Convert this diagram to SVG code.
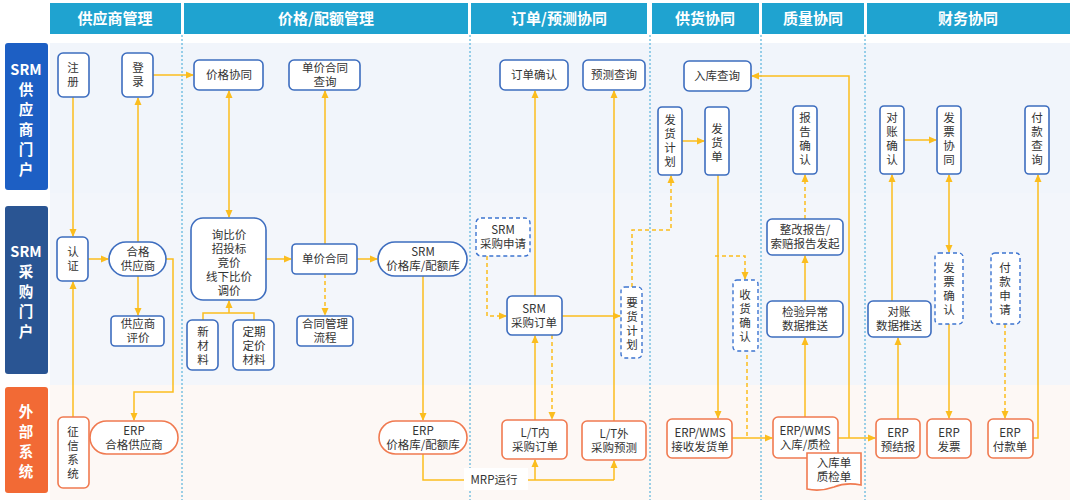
<svg xmlns="http://www.w3.org/2000/svg" width="1073" height="500" viewBox="0 0 1073 500">
<defs>
<marker id="a" markerWidth="8" markerHeight="8" refX="7" refY="4" orient="auto" markerUnits="userSpaceOnUse"><path d="M0,0.5 L8,4 L0,7.5 Z" fill="#fbbd1e"/></marker>
<marker id="s" markerWidth="8" markerHeight="8" refX="1" refY="4" orient="auto" markerUnits="userSpaceOnUse"><path d="M8,0.5 L0,4 L8,7.5 Z" fill="#fbbd1e"/></marker>
</defs>
<style>
.hd{fill:#1fa3d0}
.ht{font:bold 15px "Noto Sans CJK SC","Noto Sans",sans-serif;fill:#fff;text-anchor:middle}
.rt{font:bold 14.5px "Noto Sans CJK SC","Noto Sans",sans-serif;fill:#fff;text-anchor:middle}
.b{fill:#fff;stroke:#3d6dbf;stroke-width:1.6}
.o{fill:#fff;stroke:#f07a50;stroke-width:1.6}
.d{fill:#fff;stroke:#3d74d0;stroke-width:1.4;stroke-dasharray:4 3}
.t{font:11.5px "Noto Sans CJK SC","Noto Sans",sans-serif;fill:#333;text-anchor:middle}
.sep{stroke:#3aa6d6;stroke-width:1;stroke-dasharray:2 2}
.c{fill:none;stroke:#fbbd1e;stroke-width:1.5}
.cd{fill:none;stroke:#fbbd1e;stroke-width:1.5;stroke-dasharray:4 3}
</style>
<rect width="1073" height="500" fill="#fff"/>
<rect x="50" y="43" width="1020" height="150" fill="#f1f5fb"/>
<rect x="50" y="193" width="1020" height="192" fill="#f3f6fb"/>
<rect x="50" y="385" width="1020" height="115" fill="#fdf8f5"/>
<g id="headers">
<rect class="hd" x="50" y="3" width="131" height="31"/><text class="ht" x="115" y="24">供应商管理</text>
<rect class="hd" x="184" y="3" width="284" height="31"/><text class="ht" x="326" y="24">价格/配额管理</text>
<rect class="hd" x="471" y="3" width="176" height="31"/><text class="ht" x="559" y="24">订单/预测协同</text>
<rect class="hd" x="652" y="3" width="107" height="31"/><text class="ht" x="705" y="24">供货协同</text>
<rect class="hd" x="762" y="3" width="102" height="31"/><text class="ht" x="813" y="24">质量协同</text>
<rect class="hd" x="867" y="3" width="203" height="31"/><text class="ht" x="968" y="24">财务协同</text>
</g>
<g id="rows">
<rect x="5" y="43" width="43" height="147" rx="3" fill="#1d5fc4"/>
<text class="rt"><tspan x="26" y="75">SRM</tspan><tspan x="26" y="95">供</tspan><tspan x="26" y="115">应</tspan><tspan x="26" y="135">商</tspan><tspan x="26" y="155">门</tspan><tspan x="26" y="175">户</tspan></text>
<rect x="5" y="206" width="43" height="168" rx="3" fill="#2a5593"/>
<text class="rt"><tspan x="26" y="257">SRM</tspan><tspan x="26" y="277">采</tspan><tspan x="26" y="297">购</tspan><tspan x="26" y="317">门</tspan><tspan x="26" y="337">户</tspan></text>
<rect x="5" y="387" width="43" height="106" rx="3" fill="#f26a35"/>
<text class="rt"><tspan x="26" y="417">外</tspan><tspan x="26" y="437">部</tspan><tspan x="26" y="457">系</tspan><tspan x="26" y="477">统</tspan></text>
</g>
<g id="separators">
<line class="sep" x1="182" y1="35" x2="182" y2="500"/>
<line class="sep" x1="470" y1="35" x2="470" y2="500"/>
<line class="sep" x1="650" y1="35" x2="650" y2="500"/>
<line class="sep" x1="761" y1="35" x2="761" y2="500"/>
<line class="sep" x1="865" y1="35" x2="865" y2="500"/>
</g>
<g id="connectors">
<path class="c" d="M73,97 V236" marker-end="url(#a)"/>
<path class="c" d="M73,417 V282" marker-end="url(#a)"/>
<path class="c" d="M88,259 H108" marker-end="url(#a)"/>
<path class="c" d="M138,242 V98" marker-end="url(#a)"/>
<path class="c" d="M138,276 V315" marker-end="url(#a)"/>
<path class="c" d="M166,259 H173 V392 H134 V420" marker-end="url(#a)"/>
<path class="c" d="M153,75 H193" marker-end="url(#a)"/>
<path class="c" d="M229,91 V217" marker-start="url(#s)" marker-end="url(#a)"/>
<path class="c" d="M203,320 V313 H254 V320"/>
<path class="c" d="M229,313 V301" marker-end="url(#a)"/>
<path class="c" d="M266,259 H291" marker-end="url(#a)"/>
<path class="c" d="M325,244 V91" marker-end="url(#a)"/>
<path class="cd" d="M325,274 V315" marker-end="url(#a)"/>
<path class="c" d="M357,259 H377" marker-end="url(#a)"/>
<path class="c" d="M423,276 V420" marker-end="url(#a)"/>
<path class="c" d="M423,454 V480 H472"/>
<path class="c" d="M528,480 H614"/>
<path class="c" d="M535,480 V460" marker-end="url(#a)"/>
<path class="c" d="M614,480 V461" marker-end="url(#a)"/>
<path class="cd" d="M487,256 V316 H506" marker-end="url(#a)"/>
<path class="c" d="M535,296 V91" marker-end="url(#a)"/>
<path class="c" d="M562,316 H620" marker-end="url(#a)"/>
<path class="c" d="M535,420 V336" marker-end="url(#a)"/>
<path class="cd" d="M552,335 V419" marker-end="url(#a)"/>
<path class="c" d="M614,421 V91" marker-end="url(#a)"/>
<path class="cd" d="M632,287 V230 H671 V176" marker-end="url(#a)"/>
<path class="c" d="M682,141 H704" marker-end="url(#a)"/>
<path class="c" d="M718,175 V418" marker-end="url(#a)"/>
<path class="cd" d="M715,256 H745 V279" marker-end="url(#a)"/>
<path class="cd" d="M747,355 V438"/>
<path class="c" d="M732,438 H772" marker-end="url(#a)"/>
<path class="c" d="M805,417 V338" marker-end="url(#a)"/>
<path class="c" d="M805,301 V256" marker-end="url(#a)"/>
<path class="cd" d="M805,219 V175" marker-end="url(#a)"/>
<path class="c" d="M838,438 H875" marker-end="url(#a)"/>
<path class="c" d="M849,438 V76 H752" marker-end="url(#a)"/>
<path class="c" d="M898,419 V338" marker-end="url(#a)"/>
<path class="c" d="M892,301 V175" marker-end="url(#a)"/>
<path class="c" d="M904,140 H936" marker-end="url(#a)"/>
<path class="c" d="M949,175 V252" marker-start="url(#s)" marker-end="url(#a)"/>
<path class="c" d="M949,324 V418" marker-end="url(#a)"/>
<path class="cd" d="M1005,324 V418" marker-end="url(#a)"/>
<path class="c" d="M1033,438 H1038 V175" marker-end="url(#a)"/>
</g>
<g id="n-zhuce"><rect class="b" x="58" y="53" width="31" height="44" rx="5"/><text class="t"><tspan x="73" y="72">注</tspan><tspan x="73" y="86">册</tspan></text></g>
<g id="n-denglu"><rect class="b" x="122" y="53" width="31" height="44" rx="5"/><text class="t"><tspan x="138" y="72">登</tspan><tspan x="138" y="86">录</tspan></text></g>
<g id="n-renzheng"><rect class="b" x="57" y="237" width="31" height="44" rx="5"/><text class="t"><tspan x="73" y="256">认</tspan><tspan x="73" y="270">证</tspan></text></g>
<g id="n-hege"><rect class="b" x="109" y="242" width="57" height="34" rx="17"/><text class="t"><tspan x="138" y="256">合格</tspan><tspan x="138" y="270">供应商</tspan></text></g>
<g id="n-pingjia"><rect class="b" x="111" y="316" width="53" height="30" rx="4"/><text class="t"><tspan x="138" y="328">供应商</tspan><tspan x="138" y="342">评价</tspan></text></g>
<g id="n-zhengxin"><rect class="o" x="58" y="417" width="31" height="71" rx="5"/><text class="t"><tspan x="73" y="436">征</tspan><tspan x="73" y="450">信</tspan><tspan x="73" y="464">系</tspan><tspan x="73" y="478">统</tspan></text></g>
<g id="n-erp-hege"><rect class="o" x="90" y="421" width="88" height="33" rx="16.5"/><text class="t"><tspan x="134" y="435">ERP</tspan><tspan x="134" y="449">合格供应商</tspan></text></g>
<g id="n-jiage"><rect class="b" x="194" y="60" width="69" height="30" rx="5"/><text class="t" x="229" y="79">价格协同</text></g>
<g id="n-djcx"><rect class="b" x="289" y="60" width="71" height="30" rx="5"/><text class="t"><tspan x="325" y="72">单价合同</tspan><tspan x="325" y="86">查询</tspan></text></g>
<g id="n-xunbi"><rect class="b" x="191" y="218" width="75" height="82" rx="12"/><text class="t"><tspan x="229" y="239">询比价</tspan><tspan x="229" y="253">招投标</tspan><tspan x="229" y="267">竞价</tspan><tspan x="229" y="281">线下比价</tspan><tspan x="229" y="295">调价</tspan></text></g>
<g id="n-xincai"><rect class="b" x="187" y="320" width="31" height="50" rx="5"/><text class="t"><tspan x="203" y="336">新</tspan><tspan x="203" y="350">材</tspan><tspan x="203" y="364">料</tspan></text></g>
<g id="n-dingqi"><rect class="b" x="233" y="320" width="41" height="50" rx="5"/><text class="t"><tspan x="254" y="336">定期</tspan><tspan x="254" y="350">定价</tspan><tspan x="254" y="364">材料</tspan></text></g>
<g id="n-danjia"><rect class="b" x="292" y="244" width="65" height="30" rx="4"/><text class="t" x="325" y="263">单价合同</text></g>
<g id="n-hetong"><rect class="b" x="297" y="316" width="56" height="30" rx="4"/><text class="t"><tspan x="325" y="328">合同管理</tspan><tspan x="325" y="342">流程</tspan></text></g>
<g id="n-srm-jgk"><rect class="b" x="378" y="242" width="89" height="34" rx="17"/><text class="t"><tspan x="423" y="256">SRM</tspan><tspan x="423" y="270">价格库/配额库</tspan></text></g>
<g id="n-erp-jgk"><rect class="o" x="379" y="421" width="88" height="33" rx="16.5"/><text class="t"><tspan x="423" y="435">ERP</tspan><tspan x="423" y="449">价格库/配额库</tspan></text></g>
<g id="n-mrp"><rect x="464" y="468" width="64" height="22" fill="#fff"/><text class="t" x="494" y="484">MRP运行</text></g>
<g id="n-ddqr"><rect class="b" x="500" y="60" width="68" height="30" rx="5"/><text class="t" x="534" y="79">订单确认</text></g>
<g id="n-ycxc"><rect class="b" x="583" y="60" width="62" height="30" rx="5"/><text class="t" x="614" y="79">预测查询</text></g>
<g id="n-sqsq"><rect class="d" x="476" y="218" width="54" height="38" rx="5"/><text class="t"><tspan x="503" y="234">SRM</tspan><tspan x="503" y="248">采购申请</tspan></text></g>
<g id="n-srm-dd"><rect class="b" x="507" y="296" width="55" height="39" rx="5"/><text class="t"><tspan x="534" y="313">SRM</tspan><tspan x="534" y="327">采购订单</tspan></text></g>
<g id="n-yaohuo"><rect class="d" x="621" y="287" width="21" height="71" rx="4"/><text class="t"><tspan x="632" y="307">要</tspan><tspan x="632" y="321">货</tspan><tspan x="632" y="335">计</tspan><tspan x="632" y="349">划</tspan></text></g>
<g id="n-ltnei"><rect class="o" x="502" y="420" width="65" height="39" rx="5"/><text class="t"><tspan x="535" y="437">L/T内</tspan><tspan x="535" y="451">采购订单</tspan></text></g>
<g id="n-ltwai"><rect class="o" x="582" y="421" width="64" height="39" rx="5"/><text class="t"><tspan x="614" y="438">L/T外</tspan><tspan x="614" y="452">采购预测</tspan></text></g>
<g id="n-rkcx"><rect class="b" x="684" y="61" width="67" height="30" rx="5"/><text class="t" x="717" y="80">入库查询</text></g>
<g id="n-fhjh"><rect class="b" x="658" y="107" width="24" height="68" rx="4"/><text class="t"><tspan x="670" y="124">发</tspan><tspan x="670" y="138">货</tspan><tspan x="670" y="152">计</tspan><tspan x="670" y="166">划</tspan></text></g>
<g id="n-fhd"><rect class="b" x="705" y="107" width="24" height="68" rx="4"/><text class="t"><tspan x="717" y="133">发</tspan><tspan x="717" y="147">货</tspan><tspan x="717" y="161">单</tspan></text></g>
<g id="n-shqr"><rect class="d" x="733" y="280" width="25" height="71" rx="4"/><text class="t"><tspan x="745" y="299">收</tspan><tspan x="745" y="313">货</tspan><tspan x="745" y="327">确</tspan><tspan x="745" y="341">认</tspan></text></g>
<g id="n-wms1"><rect class="o" x="667" y="419" width="65" height="39" rx="5"/><text class="t"><tspan x="700" y="437">ERP/WMS</tspan><tspan x="700" y="451">接收发货单</tspan></text></g>
<g id="n-bgqr"><rect class="b" x="793" y="106" width="24" height="68" rx="4"/><text class="t"><tspan x="805" y="122">报</tspan><tspan x="805" y="136">告</tspan><tspan x="805" y="150">确</tspan><tspan x="805" y="164">认</tspan></text></g>
<g id="n-zhenggai"><rect class="b" x="767" y="219" width="76" height="36" rx="5"/><text class="t"><tspan x="805" y="234">整改报告/</tspan><tspan x="805" y="248">索赔报告发起</tspan></text></g>
<g id="n-jianyan"><rect class="b" x="767" y="301" width="76" height="36" rx="5"/><text class="t"><tspan x="805" y="316">检验异常</tspan><tspan x="805" y="330">数据推送</tspan></text></g>
<g id="n-wms2"><rect class="o" x="773" y="417" width="65" height="41" rx="5"/><text class="t"><tspan x="805" y="435">ERP/WMS</tspan><tspan x="805" y="449">入库/质检</tspan></text></g>
<g id="n-doc"><path class="o" d="M807,453 H861 V485 Q846,482 834,487 Q820,492 807,489 Z"/><text class="t"><tspan x="834" y="467">入库单</tspan><tspan x="834" y="481">质检单</tspan></text></g>
<g id="n-dzqr"><rect class="b" x="880" y="106" width="24" height="68" rx="4"/><text class="t"><tspan x="892" y="122">对</tspan><tspan x="892" y="136">账</tspan><tspan x="892" y="150">确</tspan><tspan x="892" y="164">认</tspan></text></g>
<g id="n-fpxt"><rect class="b" x="937" y="106" width="24" height="68" rx="4"/><text class="t"><tspan x="949" y="122">发</tspan><tspan x="949" y="136">票</tspan><tspan x="949" y="150">协</tspan><tspan x="949" y="164">同</tspan></text></g>
<g id="n-fkcx"><rect class="b" x="1025" y="106" width="24" height="68" rx="4"/><text class="t"><tspan x="1037" y="122">付</tspan><tspan x="1037" y="136">款</tspan><tspan x="1037" y="150">查</tspan><tspan x="1037" y="164">询</tspan></text></g>
<g id="n-dzts"><rect class="b" x="868" y="301" width="63" height="36" rx="5"/><text class="t"><tspan x="899" y="316">对账</tspan><tspan x="899" y="330">数据推送</tspan></text></g>
<g id="n-fpqr"><rect class="d" x="935" y="253" width="28" height="71" rx="4"/><text class="t"><tspan x="949" y="272">发</tspan><tspan x="949" y="286">票</tspan><tspan x="949" y="300">确</tspan><tspan x="949" y="314">认</tspan></text></g>
<g id="n-fksq"><rect class="d" x="991" y="253" width="29" height="71" rx="4"/><text class="t"><tspan x="1005" y="272">付</tspan><tspan x="1005" y="286">款</tspan><tspan x="1005" y="300">申</tspan><tspan x="1005" y="314">请</tspan></text></g>
<g id="n-yjb"><rect class="o" x="876" y="419" width="44" height="39" rx="5"/><text class="t"><tspan x="898" y="437">ERP</tspan><tspan x="898" y="451">预结报</tspan></text></g>
<g id="n-fp"><rect class="o" x="927" y="419" width="44" height="39" rx="5"/><text class="t"><tspan x="949" y="437">ERP</tspan><tspan x="949" y="451">发票</tspan></text></g>
<g id="n-fkd"><rect class="o" x="988" y="419" width="45" height="39" rx="5"/><text class="t"><tspan x="1010" y="437">ERP</tspan><tspan x="1010" y="451">付款单</tspan></text></g>
</svg>
